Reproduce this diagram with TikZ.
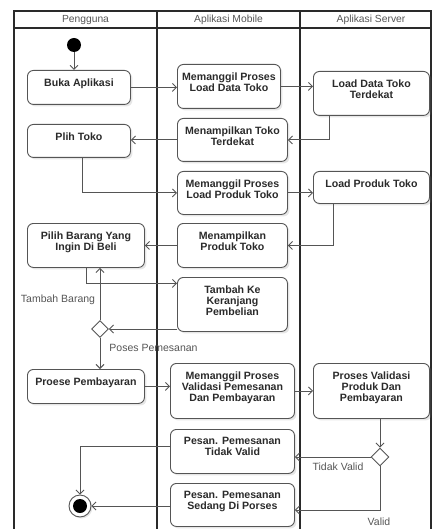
\documentclass[tikz,border=0pt]{standalone}
\usepackage{fontspec}
\setmainfont{Liberation Sans}
\usetikzlibrary{arrows.meta,shapes.geometric,shadows,calc}
\definecolor{edge}{HTML}{555555}
\definecolor{ink}{HTML}{2B2B2B}
\definecolor{frame}{HTML}{2A2A2A}
\definecolor{note}{HTML}{555555}
\tikzset{
  act/.style={draw=edge, line width=0.9pt, rounded corners=6pt, fill=white,
    anchor=north west, inner sep=0pt,
    drop shadow={shadow xshift=2pt, shadow yshift=-2pt, opacity=0.2}},
  acttext/.style={anchor=north, yshift=-7.5pt, inner sep=1pt, align=center,
    text=ink, font={\fontsize{10.6}{11}\selectfont\bfseries}},
  flow/.style={draw=edge, line width=0.9pt, -{Straight Barb[length=4pt,width=8pt]}},
  plain/.style={draw=edge, line width=0.9pt},
  guard/.style={text=note, font={\fontsize{10.5}{12}\selectfont}, inner sep=0pt},
  lanehead/.style={text=note, font={\fontsize{10.3}{12}\selectfont}, inner sep=0pt},
  choice/.style={diamond, draw=edge, line width=0.9pt, fill=white, inner sep=0pt,
    minimum width=#1, minimum height=#1},
}
\newcommand{\actbox}[6]{%
  \node[act, minimum width=#4pt, minimum height=#5pt,
    label={[acttext]north:#6}] (#1) at (#2,#3) {};}
\begin{document}
\begin{tikzpicture}[x=1pt,y=-1pt]
\useasboundingbox (0,0) rectangle (432,529);

% swimlane frame
\draw[frame, line width=1.7pt] (14,532) -- (14,11) -- (431,11) -- (431,532);
\draw[frame, line width=1.7pt] (14,28) -- (431,28);
\draw[frame, line width=1.7pt] (157,11) -- (157,532);
\draw[frame, line width=1.7pt] (300,11) -- (300,532);
\node[lanehead] (hUser) at (85.5,20) {Pengguna};
\node[lanehead] (hMobile) at (228.5,20) {Aplikasi Mobile};
\node[lanehead] (hServer) at (371,20) {Aplikasi Server};

% start and end
\node[circle, fill=black, minimum size=14pt, inner sep=0pt] (start) at (74,45) {};
\node[circle, draw=edge, line width=0.9pt, fill=white, minimum size=22pt, inner sep=0pt,
  drop shadow={shadow xshift=1.5pt, shadow yshift=-1.5pt, opacity=0.2}] (endn) at (80,506) {};
\node[circle, fill=black, minimum size=14pt, inner sep=0pt] (endcore) at (endn) {};

% Pengguna lane
\actbox{buka}{27}{70}{103}{34}{Buka Aplikasi}
\actbox{plih}{27}{124}{103}{33}{Plih Toko}
\actbox{barang}{27}{223}{117}{44}{Pilih Barang Yang\\Ingin Di Beli}
\actbox{proese}{27}{369}{117}{34}{Proese Pembayaran}

% Aplikasi Mobile lane
\actbox{mLDT}{177}{64}{103}{44}{Memanggil Proses\\Load Data Toko}
\actbox{tToko}{177}{118}{110}{43}{Menampilkan Toko\\Terdekat}
\actbox{mLPT}{177}{171}{110}{43}{Memanggil Proses\\Load Produk Toko}
\actbox{tProduk}{177}{223}{110}{44}{Menampilkan\\Produk Toko}
\actbox{tambah}{177}{277}{110}{54}{Tambah Ke\\Keranjang\\Pembelian}
\actbox{mVal}{170}{363}{124}{55}{Memanggil Proses\\Validasi Pemesanan\\Dan Pembayaran}
\actbox{tidak}{170}{429}{124}{44}{Pesan. Pemesanan\\Tidak Valid}
\actbox{sedang}{170}{483}{124}{43}{Pesan. Pemesanan\\Sedang Di Porses}

% Aplikasi Server lane
\actbox{loadDT}{313}{71}{116}{44}{Load Data Toko\\Terdekat}
\actbox{loadPT}{313}{171}{116}{32}{Load Produk Toko}
\actbox{proValid}{313}{363}{116}{55}{Proses Validasi\\Produk Dan\\Pembayaran}

% decisions
\node[choice=17pt] (d1) at (100,329) {};
\node[choice=18pt] (d2) at (380,457) {};

% flows
\draw[flow] (start) -- (start |- buka.north);
\draw[flow] (buka.east) -- (buka.east -| mLDT.west);
\draw[flow] (mLDT.east) -- (mLDT.east -| loadDT.west);
\draw[flow] ($(loadDT.south west)+(16,0)$) |- (tToko.east);
\draw[flow] (tToko.west) -- (tToko.west -| plih.east);
\draw[flow] ($(plih.south west)+(55,0)$) |- (mLPT.west);
\draw[flow] (mLPT.east) -- (mLPT.east -| loadPT.west);
\draw[flow] ($(loadPT.south west)+(20,0)$) |- (tProduk.east);
\draw[flow] (tProduk.west) -- (tProduk.west -| barang.east);
\draw[flow] (barang.south) |- ([yshift=21pt]tambah.west);
\draw[flow] (d1.east -| tambah.west) -- (d1.east);
\draw[flow] (d1.north) -- (d1.north |- barang.south);
\draw[flow] (d1.south) -- (d1.south |- proese.north);
\draw[flow] (proese.east) -- (proese.east -| mVal.west);
\draw[flow] (mVal.east) -- (mVal.east -| proValid.west);
\draw[flow] (d2.north |- proValid.south) -- (d2.north);
\draw[flow] (d2.west) -- (d2.west -| tidak.east);
\draw[flow] (d2.south) |- ([yshift=-5pt]sedang.east);
\draw[flow] ([yshift=5pt]tidak.west) -| (endn.north);
\draw[flow] (sedang.west |- endn.east) -- (endn.east);

% guards
\node[guard] (gTambah) at (58,300) {Tambah Barang};
\node[guard] (gPoses) at (153.5,348) {Poses Pemesanan};
\node[guard] (gTidak) at (338,467) {Tidak Valid};
\node[guard] (gValid) at (379,522) {Valid};
\end{tikzpicture}
\end{document}
